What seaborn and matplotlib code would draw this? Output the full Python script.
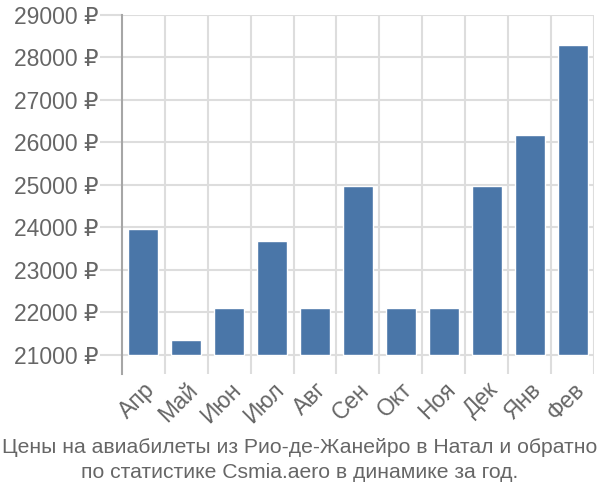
import matplotlib
matplotlib.use("Agg")
import matplotlib.pyplot as plt
import seaborn as sns
import pandas as pd
from matplotlib.ticker import FixedLocator, FuncFormatter

months = ["Апр", "Май", "Июн", "Июл", "Авг", "Сен", "Окт", "Ноя", "Дек", "Янв", "Фев"]
prices = [23960, 21360, 22100, 23680, 22100, 24980, 22100, 22100, 24980, 26180, 28300]
yticks = [21000, 22000, 23000, 24000, 25000, 26000, 27000, 28000, 29000]
title = "Цены на авиабилеты из Рио-де-Жанейро в Натал и обратно\nпо статистике Csmia.aero в динамике за год."

sns.set_theme(style="white")
plt.rcParams['font.family'] = ['Liberation Sans', 'DejaVu Sans']

df = pd.DataFrame({"month": months, "price": prices})
base = 21000
df["h"] = df["price"] - base

fig = plt.figure(figsize=(6, 5), dpi=100)
ax = fig.add_axes([0.203, 0.252, 0.787, 0.718])
sns.barplot(data=df, x="month", y="h", color="#4a76a8", saturation=1, width=0.7,
            bottom=base, ax=ax, zorder=3)
ax.set_ylim(20550, 29000)
ax.set_xlim(-0.5, len(months) - 0.5)
ax.yaxis.set_major_locator(FixedLocator(yticks))
ax.yaxis.set_major_formatter(FuncFormatter(lambda v, p: f"{int(v)} ₽"))
ax.set_xlabel("")
ax.set_ylabel("")
ax.grid(axis="y", color="#dddddd", linewidth=1.5, zorder=0)
for i in range(1, len(months) + 1):
    ax.axvline(i - 0.5, color="#dddddd", linewidth=1.5, zorder=0)
ax.set_xticks(range(len(months)))
ax.set_xticklabels(months, rotation=45, ha="right", va="top", rotation_mode="anchor")
ax.tick_params(axis="x", which="major", length=0, pad=3, labelsize=16.5, labelcolor="#666666")
ax.tick_params(axis="y", length=16, width=1.5, color="#dddddd", pad=1, labelsize=16.5, labelcolor="#666666", left=True)
for s in ["top", "right", "bottom"]:
    ax.spines[s].set_visible(False)
ax.spines["left"].set_color("#a6a6a6")
ax.spines["left"].set_linewidth(1.5)

fig.text(0.5, 0.08, title, ha="center", va="center", fontsize=15.2, color="#666666",
         linespacing=1.45)
fig.savefig("out.png", dpi=100)
